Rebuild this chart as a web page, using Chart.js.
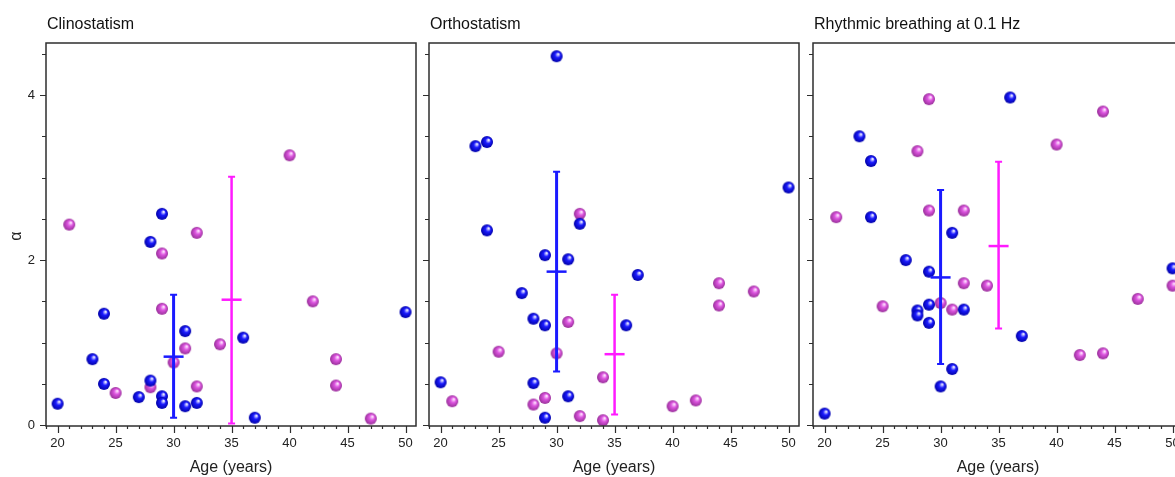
<!DOCTYPE html>
<html><head><meta charset="utf-8">
<script src="https://cdn.jsdelivr.net/npm/chart.js@4.4.1/dist/chart.umd.min.js"></script>
<style>
html,body{margin:0;padding:0;background:#fff;overflow:hidden;width:1175px;height:477px;}
#wrap{position:relative;width:1175px;height:477px;overflow:hidden;background:#fff;}
canvas{position:absolute;top:0;}
</style></head><body>
<div id="wrap">
<canvas id="c1" width="426" height="477" style="left:0px"></canvas>
<canvas id="c2" width="389" height="477" style="left:420px"></canvas>
<canvas id="c3" width="393" height="477" style="left:800px"></canvas>
</div>
<script>
// ---- labels ----
const panelTitles = ['Clinostatism', 'Orthostatism', 'Rhythmic breathing at 0.1 Hz'];
const xAxisTitle = 'Age (years)';
const yAxisTitle = 'α';
const xTickLabels = [20, 25, 30, 35, 40, 45, 50];
const yTickLabels = [0, 2, 4];
const barAges = [30, 35]; // [blue group, magenta group]

// ---- Clinostatism ----
const clinoBlueAge   = [20, 23, 24, 24, 27, 28, 28, 29, 29, 29, 31, 31, 32, 36, 37, 50];
const clinoBlueAlpha = [0.26, 0.80, 1.35, 0.50, 0.34, 2.22, 0.54, 2.56, 0.35, 0.27, 1.14, 0.23, 0.27, 1.06, 0.09, 1.37];
const clinoPinkAge   = [21, 25, 28, 29, 29, 30, 31, 32, 32, 34, 40, 42, 44, 44, 47];
const clinoPinkAlpha = [2.43, 0.39, 0.46, 2.08, 1.41, 0.76, 0.93, 2.33, 0.47, 0.98, 3.27, 1.50, 0.80, 0.48, 0.08];
const clinoBarMean = [0.83, 1.52];
const clinoBarLow  = [0.09, 0.02];
const clinoBarHigh = [1.58, 3.01];

// ---- Orthostatism ----
const orthoBlueAge   = [20, 23, 24, 24, 27, 28, 28, 29, 29, 29, 30, 31, 31, 32, 36, 37, 50];
const orthoBlueAlpha = [0.52, 3.38, 3.43, 2.36, 1.60, 1.29, 0.51, 2.06, 1.21, 0.09, 4.47, 2.01, 0.35, 2.44, 1.21, 1.82, 2.88];
const orthoPinkAge   = [21, 25, 28, 29, 30, 31, 32, 32, 34, 34, 40, 42, 44, 44, 47];
const orthoPinkAlpha = [0.29, 0.89, 0.25, 0.33, 0.87, 1.25, 2.56, 0.11, 0.58, 0.06, 0.23, 0.30, 1.72, 1.45, 1.62];
const orthoBarMean = [1.86, 0.86];
const orthoBarLow  = [0.65, 0.13];
const orthoBarHigh = [3.07, 1.58];

// ---- Rhythmic breathing ----
const rhythmBlueAge   = [20, 23, 24, 24, 27, 28, 28, 29, 29, 29, 30, 31, 31, 32, 36, 37, 50];
const rhythmBlueAlpha = [0.14, 3.50, 3.20, 2.52, 2.00, 1.39, 1.33, 1.86, 1.46, 1.24, 0.47, 2.33, 0.68, 1.40, 3.97, 1.08, 1.90];
const rhythmPinkAge   = [21, 25, 28, 29, 29, 30, 31, 32, 32, 34, 40, 42, 44, 44, 47, 50];
const rhythmPinkAlpha = [2.52, 1.44, 3.32, 3.95, 2.60, 1.48, 1.40, 2.60, 1.72, 1.69, 3.40, 0.85, 0.87, 3.80, 1.53, 1.69];
const rhythmBarMean = [1.79, 2.17];
const rhythmBarLow  = [0.74, 1.17];
const rhythmBarHigh = [2.85, 3.19];

const FONT = '"Liberation Sans", Arial, Helvetica, sans-serif';
const BLUE_BAR = '#1a1aff';
const PINK_BAR = '#ff1aff';

function sphere(r, light, mid, dark) {
  const c = document.createElement('canvas');
  const s = Math.ceil(r * 2 + 2);
  c.width = c.height = s;
  const g = c.getContext('2d');
  const cx = s / 2, cy = s / 2;
  const grad = g.createRadialGradient(cx + r * 0.3, cy - r * 0.35, r * 0.08, cx, cy, r);
  grad.addColorStop(0, light);
  grad.addColorStop(0.4, mid);
  grad.addColorStop(1, dark);
  g.fillStyle = grad;
  g.beginPath(); g.arc(cx, cy, r, 0, Math.PI * 2); g.fill();
  return c;
}
const blueBall = sphere(6, '#eeeeff', '#1c1cff', '#0000a8');
const pinkBall = sphere(6, '#ffe0ff', '#dd55e0', '#99309a');

function zip(xs, ys) { return xs.map((x, i) => ({ x: x, y: ys[i] })); }

const framePlugin = {
  id: 'frame',
  afterDatasetsDraw(chart, args, o) {
    const ctx = chart.ctx;
    const xs = chart.scales.x, ys = chart.scales.y;
    const colors = [BLUE_BAR, PINK_BAR];
    ctx.save();
    for (let i = 0; i < barAges.length; i++) {
      const x = xs.getPixelForValue(barAges[i]);
      const ym = ys.getPixelForValue(o.mean[i]);
      const yl = ys.getPixelForValue(o.low[i]);
      const yh = ys.getPixelForValue(o.high[i]);
      ctx.strokeStyle = colors[i];
      ctx.lineCap = 'butt';
      ctx.lineWidth = i === 0 ? 3 : 2.5;
      ctx.beginPath(); ctx.moveTo(x, yl); ctx.lineTo(x, yh); ctx.stroke();
      ctx.lineWidth = 2;
      ctx.beginPath();
      ctx.moveTo(x - 3.5, yl); ctx.lineTo(x + 3.5, yl);
      ctx.moveTo(x - 3.5, yh); ctx.lineTo(x + 3.5, yh);
      ctx.stroke();
      ctx.lineWidth = 2.5;
      ctx.beginPath(); ctx.moveTo(x - 10, ym); ctx.lineTo(x + 10, ym); ctx.stroke();
    }
    ctx.restore();
  },
  afterDraw(chart, args, o) {
    const ctx = chart.ctx;
    const a = chart.chartArea;
    const xs = chart.scales.x, ys = chart.scales.y;
    ctx.save();
    ctx.strokeStyle = '#2e2e2e';
    ctx.lineWidth = 1.5;
    ctx.strokeRect(a.left, a.top, a.right - a.left, a.bottom - a.top);
    ctx.lineWidth = 1.2;
    ctx.beginPath();
    for (let v = 19; v <= 50; v++) {
      const x = Math.round(xs.getPixelForValue(v)) + 0.5;
      const len = v % 5 === 0 ? 7 : 3;
      ctx.moveTo(x, a.bottom); ctx.lineTo(x, a.bottom + len);
    }
    for (let k = 0; k <= 9; k++) {
      const v = k * 0.5;
      const y = Math.round(ys.getPixelForValue(v)) + 0.5;
      const len = (k % 4 === 0) ? 6 : 4;
      ctx.moveTo(a.left, y); ctx.lineTo(a.left - len, y);
    }
    ctx.stroke();
    ctx.fillStyle = '#111';
    ctx.font = '16px ' + FONT;
    ctx.textAlign = 'left';
    ctx.textBaseline = 'middle';
    ctx.fillText(o.title, a.left + 1, 25);
    ctx.font = '16px ' + FONT;
    ctx.fillStyle = '#222';
    ctx.textAlign = 'center';
    ctx.fillText(xAxisTitle, (a.left + a.right) / 2, 468);
    if (o.showY) {
      ctx.translate(17, 236);
      ctx.rotate(-Math.PI / 2);
      ctx.font = '16px ' + FONT;
      ctx.fillText(yAxisTitle, 0, 0);
    }
    ctx.restore();
  }
};

function makeChart(id, cfg) {
  return new Chart(document.getElementById(id), {
    type: 'scatter',
    data: {
      datasets: [
        { label: 'blue', data: zip(cfg.blueAge, cfg.blueAlpha), pointStyle: blueBall, pointRadius: 6, pointHoverRadius: 6 },
        { label: 'pink', data: zip(cfg.pinkAge, cfg.pinkAlpha), pointStyle: pinkBall, pointRadius: 6, pointHoverRadius: 6 }
      ]
    },
    options: {
      responsive: false,
      animation: false,
      devicePixelRatio: 1,
      events: [],
      layout: { padding: { top: 43, right: 10, left: 0, bottom: 0 } },
      plugins: {
        legend: { display: false },
        tooltip: { enabled: false },
        frame: { title: cfg.title, showY: cfg.showY, mean: cfg.mean, low: cfg.low, high: cfg.high }
      },
      scales: {
        x: {
          type: 'linear', min: 19, max: 50.9,
          grid: { display: false, drawTicks: false },
          border: { display: false },
          afterBuildTicks: s => { s.ticks = xTickLabels.map(v => ({ value: v })); },
          afterFit: s => { s.height = 51; },
          ticks: { padding: 10, autoSkip: false, maxRotation: 0, color: '#222',
                   font: { family: FONT, size: 13 }, callback: v => String(v) }
        },
        y: {
          type: 'linear', min: -0.01, max: 4.63,
          grid: { display: false, drawTicks: false },
          border: { display: false },
          afterBuildTicks: s => { s.ticks = yTickLabels.map(v => ({ value: v })); },
          afterFit: s => { s.width = cfg.yWidth; },
          ticks: { display: cfg.showY, padding: 11, color: '#222',
                   font: { family: FONT, size: 13 }, callback: v => String(v) }
        }
      }
    },
    plugins: [framePlugin]
  });
}

makeChart('c1', { title: panelTitles[0], showY: true, yWidth: 46,
  blueAge: clinoBlueAge, blueAlpha: clinoBlueAlpha, pinkAge: clinoPinkAge, pinkAlpha: clinoPinkAlpha,
  mean: clinoBarMean, low: clinoBarLow, high: clinoBarHigh });
makeChart('c2', { title: panelTitles[1], showY: false, yWidth: 9,
  blueAge: orthoBlueAge, blueAlpha: orthoBlueAlpha, pinkAge: orthoPinkAge, pinkAlpha: orthoPinkAlpha,
  mean: orthoBarMean, low: orthoBarLow, high: orthoBarHigh });
makeChart('c3', { title: panelTitles[2], showY: false, yWidth: 13,
  blueAge: rhythmBlueAge, blueAlpha: rhythmBlueAlpha, pinkAge: rhythmPinkAge, pinkAlpha: rhythmPinkAlpha,
  mean: rhythmBarMean, low: rhythmBarLow, high: rhythmBarHigh });
</script>
</body></html>
